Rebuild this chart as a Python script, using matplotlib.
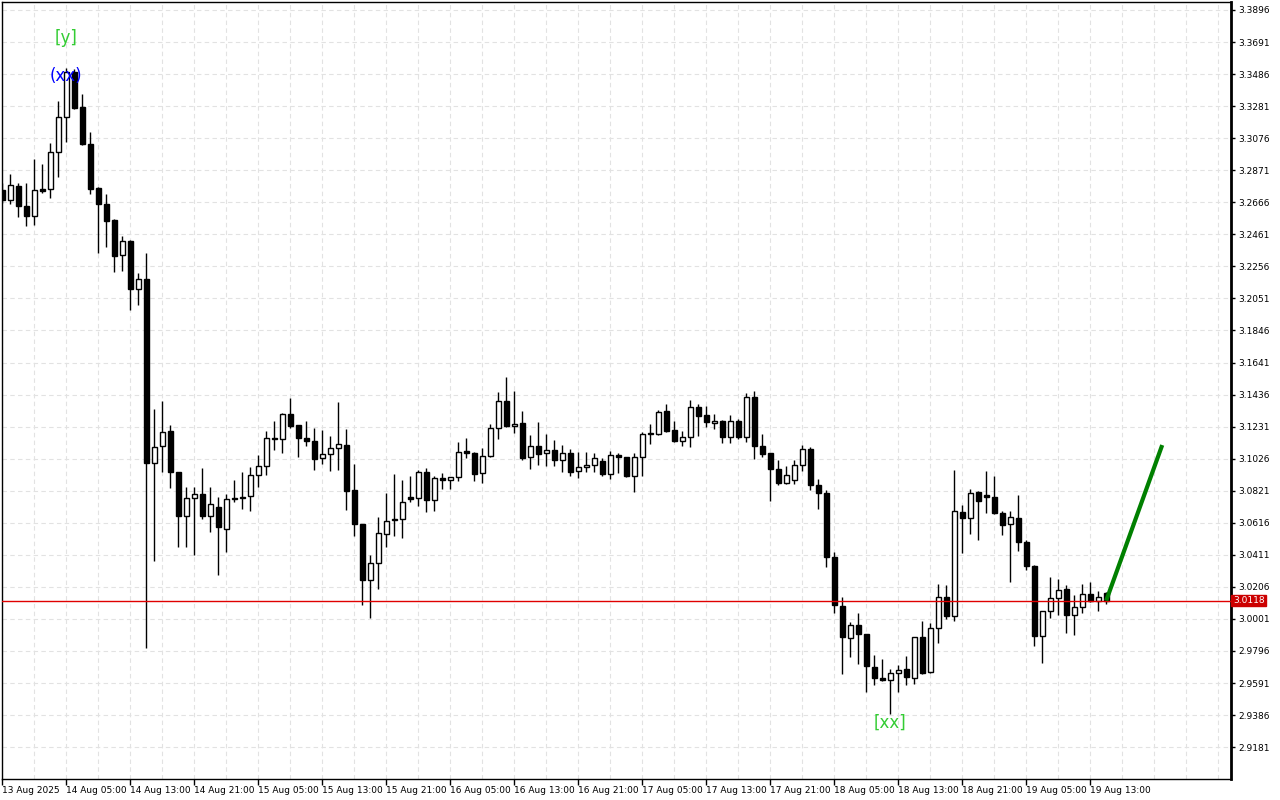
#!/usr/bin/env python3
"""
Hourly candlestick chart (MetaTrader style) with a projected move
Saves out.png at 1280x800
"""

import matplotlib
matplotlib.use("Agg")
import matplotlib.pyplot as plt
from matplotlib.ticker import FixedLocator, MultipleLocator
import matplotlib.transforms as mtransforms

# OHLC per hourly bar, starting 13 Aug 21:00
opens = [
    3.2745, 3.2681, 3.2770, 3.2642, 3.2578, 3.2748, 3.2751, 3.2988, 3.3212, 3.3499,
    3.3276, 3.3039, 3.2757, 3.2655, 3.2553, 3.2329, 3.2418, 3.2111, 3.2175, 3.0998,
    3.1107, 3.1203, 3.0941, 3.0659, 3.0774, 3.0800, 3.0659, 3.0717, 3.0576, 3.0774,
    3.0774, 3.0787, 3.0921, 3.0979, 3.1158, 3.1152, 3.1311, 3.1241, 3.1158, 3.1139,
    3.1030, 3.1056, 3.1094, 3.1113, 3.0826, 3.0608, 3.0250, 3.0359, 3.0544, 3.0637,
    3.0640, 3.0781, 3.0774, 3.0941, 3.0762, 3.0902, 3.0890, 3.0909, 3.1075, 3.1062,
    3.0934, 3.1043, 3.1222, 3.1395, 3.1235, 3.1254, 3.1036, 3.1107, 3.1062, 3.1081,
    3.1017, 3.1062, 3.0947, 3.0972, 3.0985, 3.1011, 3.0928, 3.1049, 3.1036, 3.0915,
    3.1036, 3.1187, 3.1184, 3.1331, 3.1209, 3.1139, 3.1164, 3.1356, 3.1305, 3.1254,
    3.1267, 3.1164, 3.1267, 3.1164, 3.1420, 3.1107, 3.1062, 3.0960, 3.0870, 3.0890,
    3.0985, 3.1088, 3.0858, 3.0806, 3.0397, 3.0083, 2.9879, 2.9962, 2.9904, 2.9693,
    2.9623, 2.9610, 2.9655, 2.9681, 2.9623, 2.9885, 2.9661, 2.9943, 3.0141, 3.0020,
    3.0685, 3.0647, 3.0813, 3.0794, 3.0781, 3.0679, 3.0608, 3.0647, 3.0493, 3.0340,
    2.9891, 3.0052, 3.0135, 3.0192, 3.0026, 3.0077, 3.0160, 3.0116, 3.0167,
]
highs = [
    3.2789, 3.2847, 3.2789, 3.2789, 3.2943, 3.2911, 3.3045, 3.3314, 3.3525, 3.3519,
    3.3359, 3.3116, 3.2764, 3.2719, 3.2559, 3.2450, 3.2425, 3.2214, 3.2342, 3.1343,
    3.1395, 3.1241, 3.0941, 3.0845, 3.0845, 3.0966, 3.0845, 3.0781, 3.0800, 3.0890,
    3.0941, 3.0972, 3.1049, 3.1203, 3.1267, 3.1318, 3.1414, 3.1241, 3.1267, 3.1222,
    3.1209, 3.1171, 3.1388, 3.1216, 3.0992, 3.0608, 3.0410, 3.0653, 3.0806, 3.0928,
    3.0890, 3.0915, 3.0953, 3.0966, 3.0915, 3.0934, 3.0909, 3.1132, 3.1158, 3.1068,
    3.1094, 3.1248, 3.1452, 3.1548, 3.1459, 3.1331, 3.1177, 3.1260, 3.1184, 3.1145,
    3.1113, 3.1088, 3.1068, 3.1068, 3.1062, 3.1030, 3.1075, 3.1062, 3.1036, 3.1062,
    3.1196, 3.1248, 3.1337, 3.1375, 3.1267, 3.1203, 3.1401, 3.1375, 3.1363, 3.1311,
    3.1273, 3.1305, 3.1280, 3.1446, 3.1459, 3.1184, 3.1062, 3.1017, 3.0979, 3.1017,
    3.1113, 3.1100, 3.0896, 3.0826, 3.0429, 3.0141, 2.9981, 3.0039, 2.9904, 2.9770,
    2.9744, 2.9681, 2.9706, 2.9764, 2.9885, 2.9988, 2.9975, 3.0224, 3.0218, 3.0953,
    3.0730, 3.0832, 3.0819, 3.0947, 3.0915, 3.0691, 3.0691, 3.0794, 3.0506, 3.0346,
    3.0052, 3.0269, 3.0256, 3.0218, 3.0154, 3.0224, 3.0237, 3.0180, 3.0173,
]
lows = [
    3.2661, 3.2655, 3.2572, 3.2514, 3.2521, 3.2725, 3.2693, 3.2828, 3.3052, 3.3263,
    3.3032, 3.2719, 3.2342, 3.2380, 3.2220, 3.2227, 3.1977, 3.2009, 2.9815, 3.0372,
    3.0941, 3.0838, 3.0461, 3.0461, 3.0410, 3.0640, 3.0557, 3.0282, 3.0429, 3.0749,
    3.0704, 3.0691, 3.0845, 3.0921, 3.1081, 3.1062, 3.1222, 3.1036, 3.1107, 3.0953,
    3.0992, 3.0947, 3.0953, 3.0698, 3.0531, 3.0090, 3.0007, 3.0192, 3.0461, 3.0531,
    3.0519, 3.0749, 3.0723, 3.0685, 3.0691, 3.0832, 3.0832, 3.0883, 3.1030, 3.0883,
    3.0870, 3.1036, 3.1152, 3.1228, 3.1190, 3.1017, 3.0960, 3.0985, 3.0979, 3.0979,
    3.0941, 3.0915, 3.0902, 3.0941, 3.0941, 3.0915, 3.0896, 3.0934, 3.0909, 3.0813,
    3.0915, 3.1120, 3.1177, 3.1196, 3.1132, 3.1107, 3.1100, 3.1171, 3.1228, 3.1216,
    3.1126, 3.1126, 3.1152, 3.1132, 3.1024, 3.1036, 3.0755, 3.0858, 3.0864, 3.0864,
    3.0947, 3.0826, 3.0704, 3.0333, 3.0039, 2.9649, 2.9757, 2.9712, 2.9534, 2.9578,
    2.9604, 2.9393, 2.9534, 2.9578, 2.9585, 2.9649, 2.9655, 2.9847, 3.0001, 2.9988,
    3.0423, 3.0544, 3.0506, 3.0679, 3.0672, 3.0538, 3.0237, 3.0436, 3.0314, 2.9827,
    2.9719, 3.0007, 3.0026, 2.9911, 2.9898, 3.0039, 3.0109, 3.0052, 3.0096,
]
closes = [
    3.2681, 3.2777, 3.2642, 3.2578, 3.2745, 3.2741, 3.2988, 3.3212, 3.3499, 3.3269,
    3.3039, 3.2751, 3.2655, 3.2546, 3.2322, 3.2418, 3.2111, 3.2175, 3.0998, 3.1100,
    3.1196, 3.0941, 3.0659, 3.0774, 3.0800, 3.0659, 3.0736, 3.0589, 3.0768, 3.0768,
    3.0781, 3.0921, 3.0979, 3.1158, 3.1152, 3.1311, 3.1235, 3.1158, 3.1139, 3.1024,
    3.1056, 3.1094, 3.1120, 3.0819, 3.0608, 3.0250, 3.0359, 3.0551, 3.0627, 3.0631,
    3.0749, 3.0771, 3.0941, 3.0762, 3.0902, 3.0890, 3.0909, 3.1068, 3.1062, 3.0928,
    3.1043, 3.1222, 3.1395, 3.1235, 3.1248, 3.1030, 3.1107, 3.1056, 3.1081, 3.1017,
    3.1062, 3.0941, 3.0972, 3.0985, 3.1030, 3.0928, 3.1049, 3.1036, 3.0915, 3.1036,
    3.1184, 3.1181, 3.1324, 3.1203, 3.1139, 3.1164, 3.1356, 3.1299, 3.1260, 3.1267,
    3.1164, 3.1267, 3.1164, 3.1420, 3.1107, 3.1056, 3.0960, 3.0870, 3.0921, 3.0985,
    3.1088, 3.0858, 3.0806, 3.0397, 3.0090, 2.9885, 2.9962, 2.9904, 2.9700, 2.9623,
    2.9610, 2.9655, 2.9674, 2.9629, 2.9885, 2.9655, 2.9943, 3.0141, 3.0020, 3.0691,
    3.0647, 3.0806, 3.0755, 3.0781, 3.0679, 3.0602, 3.0653, 3.0493, 3.0340, 2.9891,
    3.0052, 3.0135, 3.0186, 3.0026, 3.0077, 3.0160, 3.0116, 3.0141, 3.0118,
]

time_labels = [
    "13 Aug 2025", "14 Aug 05:00", "14 Aug 13:00", "14 Aug 21:00", "15 Aug 05:00",
    "15 Aug 13:00", "15 Aug 21:00", "16 Aug 05:00", "16 Aug 13:00", "16 Aug 21:00",
    "17 Aug 05:00", "17 Aug 13:00", "17 Aug 21:00", "18 Aug 05:00", "18 Aug 13:00",
    "18 Aug 21:00", "19 Aug 05:00", "19 Aug 13:00",
]
price_ticks = [2.9181, 2.9386, 2.9591, 2.9796, 3.0001, 3.0206, 3.0411, 3.0616,
               3.0821, 3.1026, 3.1231, 3.1436, 3.1641, 3.1846, 3.2051, 3.2256,
               3.2461, 3.2666, 3.2871, 3.3076, 3.3281, 3.3486, 3.3691, 3.3896]

current_price = 3.0118

# projected move (bar index, price)
proj_bars = [138, 145]
proj_prices = [3.0118, 3.1113]

# wave labels (bar index, price, text, colour)
wave_labels = [
    (8, 3.3717, "[y]", "#33cc33"),
    (8, 3.3474, "(xx)", "#0000ff"),
    (111, 2.9335, "[xx]", "#33cc33"),
]


def draw_candles(ax):
    n = len(opens)
    idx = list(range(n))
    ax.vlines(idx, lows, highs, color="black", linewidth=1, zorder=2)
    for i in idx:
        o, c = opens[i], closes[i]
        bottom = min(o, c)
        height = max(abs(c - o), 0.0002)
        face = "white" if c >= o else "black"
        ax.bar(i, height, bottom=bottom, width=0.62, color=face,
               edgecolor="black", linewidth=1, zorder=3)


def main():
    fig = plt.figure(figsize=(12.8, 8), dpi=100)
    ax = fig.add_axes([2 / 1280, 21 / 800, 1229 / 1280, 777 / 800])

    draw_candles(ax)

    ax.axhline(current_price, color="#e00000", linewidth=1, zorder=4)
    ax.plot(proj_bars, proj_prices, color="#008000", linewidth=3,
            solid_capstyle="butt", zorder=5)

    for b, p, txt, col in wave_labels:
        ax.text(b, p, txt, color=col, fontsize=12, ha="center", va="center",
                zorder=6)

    ax.set_xlim(-0.04, 153.6)
    ax.set_ylim(2.8977, 3.3947)

    # y axis on the right
    ax.yaxis.tick_right()
    ax.yaxis.set_major_locator(FixedLocator(price_ticks))
    ax.set_yticklabels([f"{p:.4f}" for p in price_ticks])
    ax.tick_params(axis="y", direction="out", length=3, width=1, pad=2,
                   labelsize=6.5, colors="black")

    # time axis: labels every 8 bars, grid every 4 bars
    ax.xaxis.set_major_locator(FixedLocator([8 * k for k in range(len(time_labels))]))
    ax.set_xticklabels(time_labels)
    for lbl in ax.get_xticklabels():
        lbl.set_horizontalalignment("left")
    ax.xaxis.set_minor_locator(MultipleLocator(4))
    ax.tick_params(axis="x", which="major", direction="out", length=4, width=1,
                   pad=1, labelsize=6.5)
    ax.tick_params(axis="x", which="minor", length=0)

    ax.grid(True, which="both", axis="x", color="#e2e2e2", linestyle=(0, (4, 3)),
            linewidth=0.8, zorder=0)
    ax.grid(True, which="major", axis="y", color="#e2e2e2", linestyle=(0, (4, 3)),
            linewidth=0.8, zorder=0)
    ax.set_axisbelow(True)

    for side in ["left", "top", "bottom"]:
        ax.spines[side].set_linewidth(1)
    ax.spines["right"].set_linewidth(2)

    # current price tag on the axis
    trans = mtransforms.blended_transform_factory(ax.transAxes, ax.transData)
    ax.text(1.0015, current_price, "3.0118", transform=trans, fontsize=6.5,
            color="white", ha="left", va="center", zorder=7, clip_on=False,
            bbox=dict(boxstyle="square,pad=0.15", facecolor="#cc0000",
                      edgecolor="#cc0000"))

    fig.savefig("out.png", dpi=100)
    print("Created out.png")


if __name__ == "__main__":
    main()
